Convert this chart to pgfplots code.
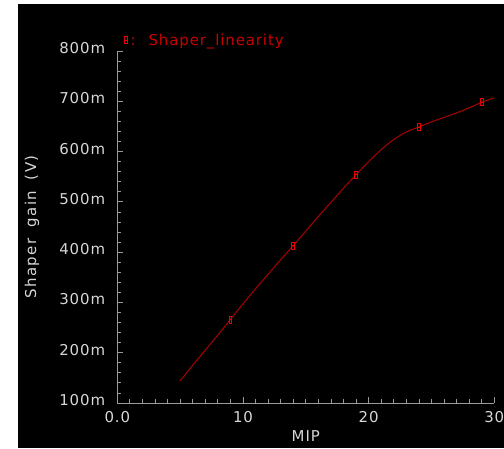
\documentclass[border=0pt]{standalone}
\usepackage{fontspec}
\setmainfont[LetterSpace=6]{DejaVu Sans}
\newfontfamily\ylfont[LetterSpace=10, WordSpace=1.7]{DejaVu Sans}
\usepackage{pgfplots}
\pgfplotsset{compat=1.18}
\definecolor{axgray}{RGB}{155,155,155}
\definecolor{txtgray}{RGB}{215,215,215}
\definecolor{curvered}{RGB}{170,0,0}
\definecolor{markred}{RGB}{235,0,0}
\definecolor{legred}{RGB}{200,0,0}

% narrow box with a bar through it, like the simulator's point mark
\pgfdeclareplotmark{cad8}{%
  \pgfpathrectangle{\pgfpoint{-1.5pt}{-3.5pt}}{\pgfpoint{3pt}{7pt}}%
  \pgfpathmoveto{\pgfpoint{-1.5pt}{0pt}}\pgfpathlineto{\pgfpoint{1.5pt}{0pt}}%
  \pgfusepathqstroke}

\begin{document}
\begin{tikzpicture}
\fill[white] (0,0) rectangle (504bp,449bp);
\path[use as bounding box] (0,0) rectangle (504bp,449bp);
\fill[black] (18bp,1bp) rectangle (504bp,445bp);
\begin{axis}[
    at={(117.3bp,46bp)}, anchor=south west,
    scale only axis, width=377bp, height=352bp,
    xmin=0, xmax=30, ymin=0.1, ymax=0.8,
    axis x line=bottom, axis y line=left,
    axis line style={axgray, line width=0.8pt, -},
    tick align=inside,
    major tick length=6bp, minor tick length=3.5bp,
    every tick/.style={axgray, line width=0.8pt},
    xtick={0,10,20,30}, xticklabels={0.0,10,20,30},
    ytick={0.1,0.2,0.3,0.4,0.5,0.6,0.7,0.8},
    yticklabels={100m,200m,300m,400m,500m,600m,700m,800m},
    minor x tick num=9, minor y tick num=4,
    ticklabel style={txtgray, font=\fontsize{15}{15}\selectfont, inner sep=0pt},
    x tick label style={anchor=center, yshift=-14.5bp},
    y tick label style={anchor=east, xshift=-12bp, yshift=3bp},
    xlabel={MIP}, ylabel={Shaper gain (V)},
    label style={txtgray, font=\fontsize{15}{15}\selectfont},
    xlabel style={at={(axis description cs:0.5,-0.0952)}, anchor=center},
    ylabel style={at={(axis description cs:-0.2263,0.5)}, anchor=center,
      font=\fontsize{15}{15}\ylfont},
    legend style={at={(axis description cs:0.0188,1.031)}, anchor=west,
      draw=none, fill=none, text=legred, font=\fontsize{15}{15}\selectfont,
      inner sep=0pt, nodes={inner sep=0pt}},
    legend cell align=left,
  ]
  \addplot[curvered, line width=1pt, smooth, forget plot] coordinates {
    (5,0.144) (6,0.175) (7,0.205) (8,0.235) (9,0.266) (10,0.297)
    (11,0.327) (12,0.356) (13,0.385) (14,0.413) (15,0.442) (16,0.471)
    (17,0.499) (18,0.527) (19,0.554) (20,0.580) (21,0.604) (22,0.624)
    (23,0.639) (24,0.649) (25,0.659) (26,0.668) (27,0.677) (28,0.687)
    (29,0.698) (30,0.707)};
  \addplot[only marks, mark=cad8, draw=markred, mark options={line width=0.8pt}]
    coordinates {(9,0.266) (14,0.413) (19,0.554) (24,0.649) (29,0.698)};
  \addlegendentry{\hspace{3bp}:\hspace{13bp}Shaper\_linearity}
\end{axis}
\end{tikzpicture}
\end{document}
